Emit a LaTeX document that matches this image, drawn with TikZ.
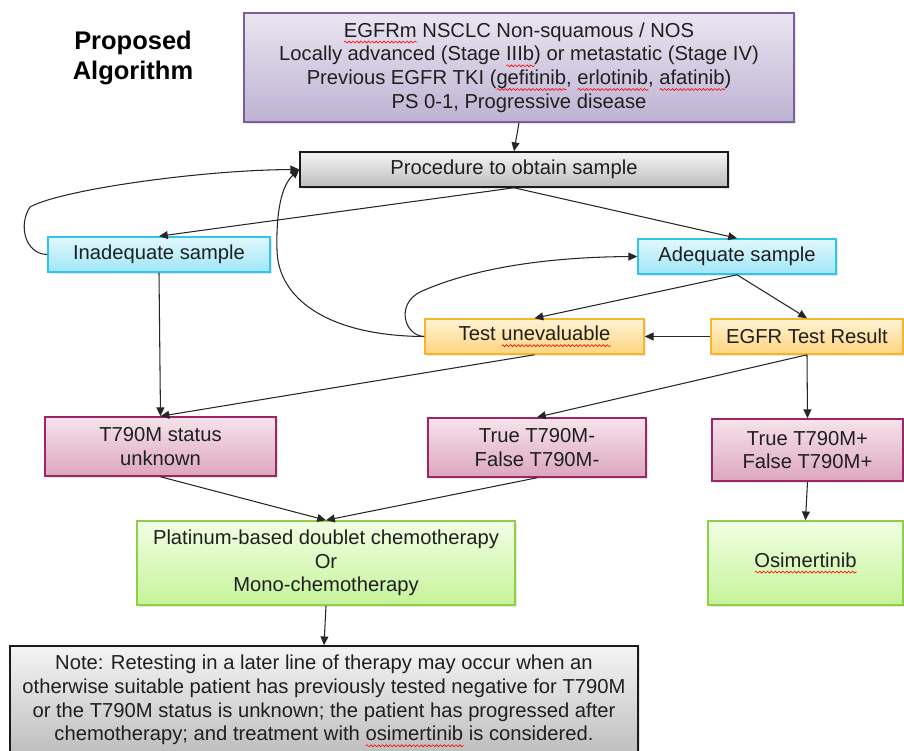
\documentclass[tikz,border=0pt]{standalone}
\usepackage{fontspec}
\setmainfont{Liberation Sans}
\usetikzlibrary{arrows.meta, shadows, decorations.pathmorphing}
\definecolor{purpletop}{HTML}{E9E5F0}
\definecolor{purplebot}{HTML}{BEB2D3}
\definecolor{purpleedge}{HTML}{7A5E9C}
\definecolor{greytop}{HTML}{F4F4F4}
\definecolor{greybot}{HTML}{BDBDBD}
\definecolor{greyedge}{HTML}{1A1A1A}
\definecolor{cyantop}{HTML}{E2F8FD}
\definecolor{cyanbot}{HTML}{9FE6F8}
\definecolor{cyanedge}{HTML}{2EC5EA}
\definecolor{orangetop}{HTML}{FFF3D4}
\definecolor{orangebot}{HTML}{FFD47E}
\definecolor{orangeedge}{HTML}{F7B52C}
\definecolor{pinktop}{HTML}{F6E3EB}
\definecolor{pinkbot}{HTML}{DCA6BF}
\definecolor{pinkedge}{HTML}{9C2467}
\definecolor{greentop}{HTML}{F1FFE3}
\definecolor{greenbot}{HTML}{C6F39A}
\definecolor{greenedge}{HTML}{8FCF45}
\definecolor{inktext}{HTML}{1F1F1F}
% red spell-check wave under a word
\newsavebox\spellbox
\newlength\spellwd
\newcommand\spell[1]{\sbox\spellbox{#1}\setlength\spellwd{\wd\spellbox}%
  \rlap{\raisebox{-2.8pt}{\tikz[baseline=0pt]\draw[red, line width=0.35pt, decorate,
    decoration={snake, amplitude=0.55pt, segment length=2.2pt}] (0pt,0pt) -- (\spellwd,0pt);}}%
  \usebox\spellbox}
\tikzset{
  box/.style={
    rectangle, draw=#1edge, line width=0.9pt, top color=#1top, bottom color=#1bot,
    align=center, text=inktext, font=\fontsize{11.5}{13.5}\selectfont, inner sep=2pt,
    drop shadow={shadow xshift=1.2pt, shadow yshift=-1.2pt, opacity=0.2}
  },
  flow/.style={
    -{Triangle[length=5pt,width=4.5pt]}, line width=0.6pt, draw=black!85
  },
  heading/.style={
    font=\fontsize{14.5}{17}\selectfont\bfseries, align=center
  }
}
\begin{document}
\begin{tikzpicture}[x=0.02cm, y=-0.02cm]
  \useasboundingbox (0,0) rectangle (904,751);

  \node[heading] (title) at (133,58) {Proposed\\Algorithm};

  % Patient and sampling
  \node[box=purple, minimum width=11cm, minimum height=2.18cm] (cond) at (519,67.5)
    {\spell{EGFRm} NSCLC Non-squamous / NOS\\
     Locally advanced (Stage \spell{IIIb}) or metastatic (Stage IV)\\
     Previous EGFR TKI (\spell{gefitinib}, \spell{erlotinib}, \spell{afatinib})\\
     PS 0-1, Progressive disease};
  \node[box=grey, minimum width=8.56cm, minimum height=0.7cm] (proc) at (514,169.5) {Procedure to obtain sample};
  \node[box=cyan, minimum width=4.44cm, minimum height=0.7cm] (inad) at (159,254.5) {Inadequate sample};
  \node[box=cyan, minimum width=3.96cm, minimum height=0.7cm] (adeq) at (737,256.5) {Adequate sample};

  % Testing
  \node[box=orange, minimum width=4.38cm, minimum height=0.7cm] (uneval) at (534.5,336.5) {Test \spell{unevaluable}};
  \node[box=orange, minimum width=3.84cm, minimum height=0.7cm] (egfr) at (807,336.5) {EGFR Test Result};
  \node[box=pink, minimum width=4.62cm, minimum height=1.18cm] (unk) at (160.5,446.5) {T790M status\\unknown};
  \node[box=pink, minimum width=4.36cm, minimum height=1.18cm] (neg) at (537,447.5) {True T790M-\\False T790M-};
  \node[box=pink, minimum width=3.82cm, minimum height=1.24cm] (pos) at (807.5,450) {True T790M+\\False T790M+};

  % Treatment
  \node[box=green, minimum width=7.56cm, minimum height=1.68cm] (chemo) at (326,563)
    {Platinum-based doublet chemotherapy\\Or\\Mono-chemotherapy};
  \node[box=green, minimum width=3.9cm, minimum height=1.68cm] (osim) at (805.5,563) {\spell{Osimertinib}};
  \node[box=grey, minimum width=12.56cm, minimum height=2.2cm] (note) at (324,701)
    {Note: Retesting in a later line of therapy may occur when an\\
     otherwise suitable patient has previously tested negative for T790M\\
     or the T790M status is unknown; the patient has progressed after\\
     chemotherapy; and treatment with \spell{osimertinib} is considered.};

  \draw[flow] (cond.south) -- (proc.north);
  \draw[flow] (proc.south) -- (inad.north);
  \draw[flow] (proc.south) -- (adeq.north);
  \draw[flow] (inad.west) .. controls (25,254) and (18,225) .. (30,207)
    .. controls (60,190) and (200,170) .. (proc.west);
  \draw[flow] (uneval.west) .. controls (330,336) and (278,300) .. (277,250)
    .. controls (276,210) and (282,185) .. (proc.west);
  \draw[flow] (uneval.west) .. controls (405,336) and (395,305) .. (420,292)
    .. controls (480,265) and (560,257) .. (adeq.west);
  \draw[flow] (adeq.south) -- (egfr.north);
  \draw[flow] (adeq.south) -- (uneval.north);
  \draw[flow] (egfr.west) -- (uneval.east);
  \draw[flow] (inad.south) -- (unk.north);
  \draw[flow] (uneval.south) -- (unk.north);
  \draw[flow] (egfr.south) -- (neg.north);
  \draw[flow] (egfr.south) -- (pos.north);
  \draw[flow] (unk.south) -- (chemo.north);
  \draw[flow] (neg.south) -- (chemo.north);
  \draw[flow] (pos.south) -- (osim.north);
  \draw[flow] (chemo.south) -- (note.north);

\end{tikzpicture}
\end{document}
